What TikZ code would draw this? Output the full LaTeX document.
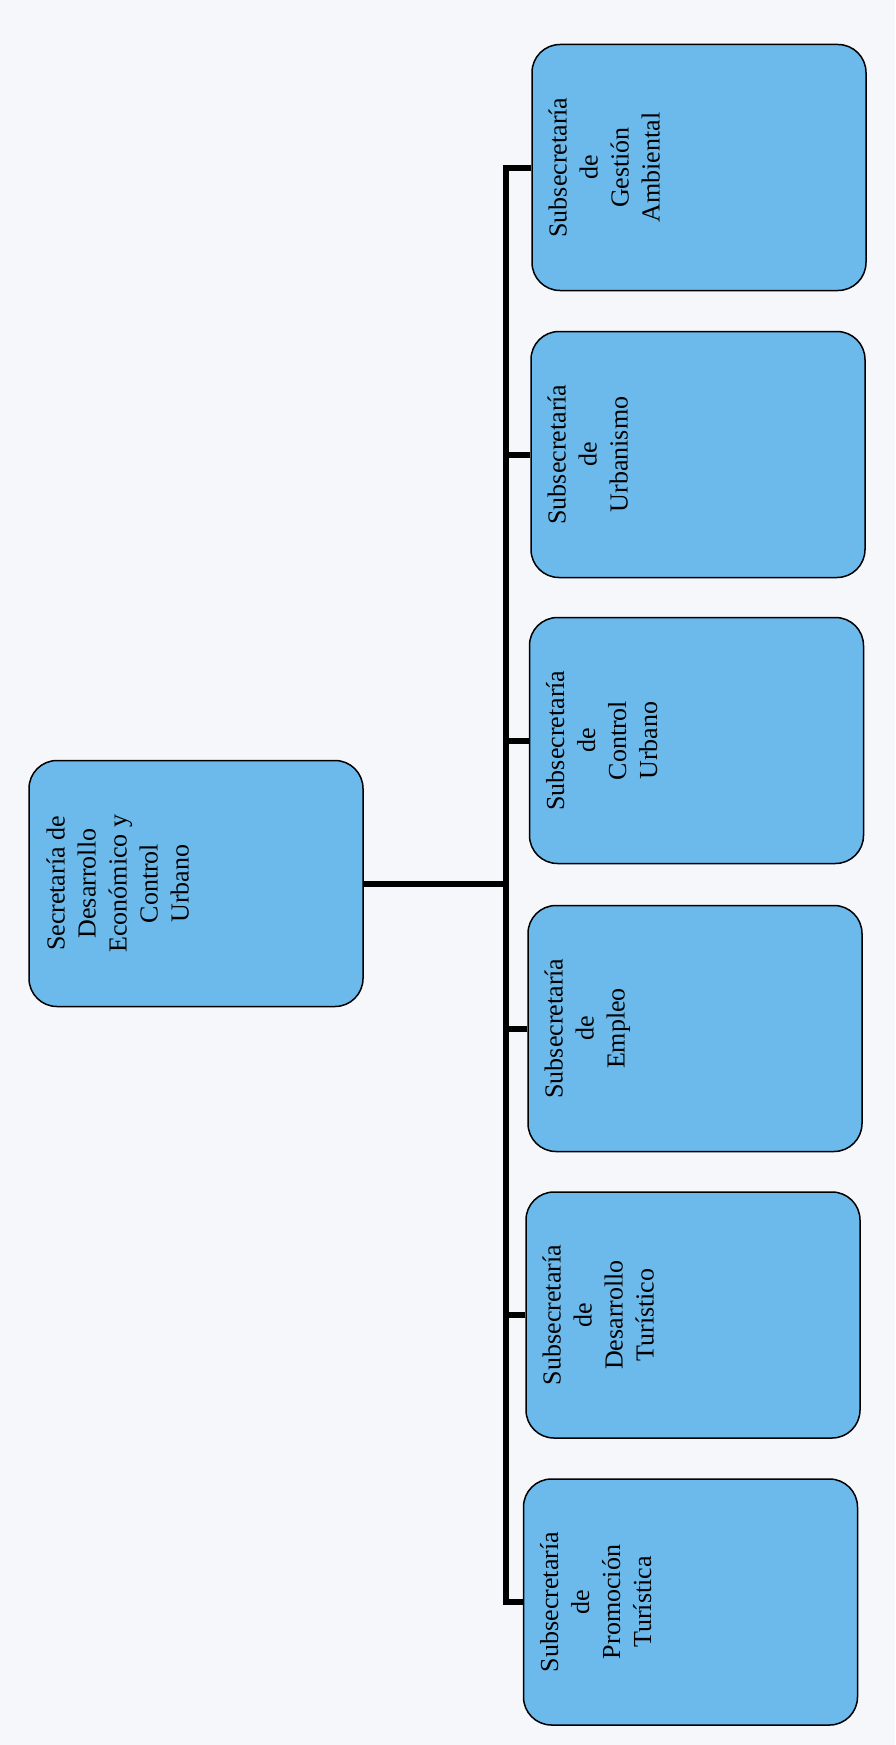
\documentclass[tikz,border=0pt]{standalone}
\usepackage{fontspec}
\setmainfont{Liberation Serif}
\definecolor{boxblue}{RGB}{108,186,236}
\definecolor{paper}{RGB}{246,247,251}
\begin{document}
\begin{tikzpicture}[x=1pt,y=-1pt,
  orgbox/.style={draw=black, line width=1.5pt, fill=boxblue, rounded corners=28pt,
    rotate=90, minimum width=246pt, minimum height=334pt, inner sep=0pt},
  lbl/.style={rotate=90, anchor=north, align=center, inner sep=0pt,
    font=\fontsize{26}{31}\selectfont},
  conn/.style={draw=black, line width=6pt}]
\fill[paper] (0,0) rectangle (895,1745);
\useasboundingbox (0,0) rectangle (895,1745);
\coordinate (sp) at (506,0);
% boxes (drawn first as paths of nodes; connectors drawn on top are covered by redrawing order below)
\node[orgbox] (m) at (196,883.5) {};
\node[orgbox] (g) at (699,167.5) {};
\node[orgbox] (u) at (698,454.5) {};
\node[orgbox] (c) at (696.5,740.5) {};
\node[orgbox] (e) at (695,1028.5) {};
\node[orgbox] (d) at (693,1315) {};
\node[orgbox] (p) at (690.5,1602) {};
% connectors
\draw[conn] (g.north) -- (g.north -| sp) -- (p.north -| sp) -- (p.north);
\draw[conn] (u.north) -- (u.north -| sp);
\draw[conn] (c.north) -- (c.north -| sp);
\draw[conn] (e.north) -- (e.north -| sp);
\draw[conn] (d.north) -- (d.north -| sp);
\draw[conn] (m.south) -- (m.south -| sp);
% labels
\node[lbl] (mt) at ([xshift=18pt]m.north) {Secretaría de\\Desarrollo\\Económico y\\Control\\Urbano};
\node[lbl] (gt) at ([xshift=17pt]g.north) {Subsecretaría\\de\\Gestión\\Ambiental};
\node[lbl] (ut) at ([xshift=17pt]u.north) {Subsecretaría\\de\\Urbanismo};
\node[lbl] (ct) at ([xshift=17pt]c.north) {Subsecretaría\\de\\Control\\Urbano};
\node[lbl] (et) at ([xshift=17pt]e.north) {Subsecretaría\\de\\Empleo};
\node[lbl] (dt) at ([xshift=17pt]d.north) {Subsecretaría\\de\\Desarrollo\\Turístico};
\node[lbl] (pt) at ([xshift=17pt]p.north) {Subsecretaría\\de\\Promoción\\Turística};
\end{tikzpicture}
\end{document}
